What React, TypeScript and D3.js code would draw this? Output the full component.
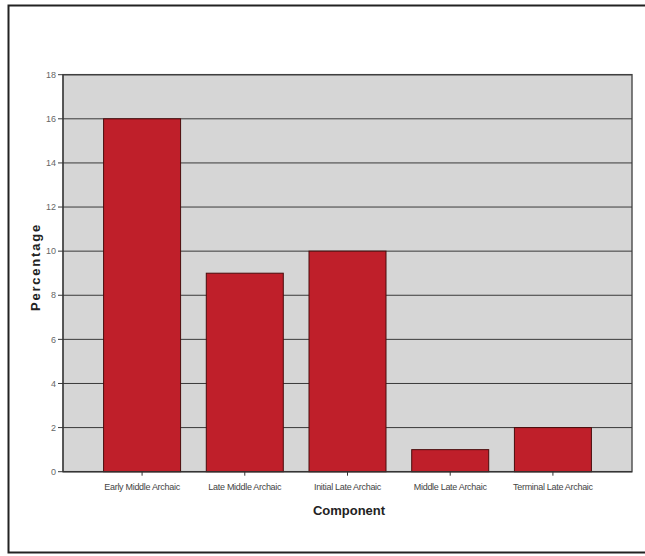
import React from "react";
import * as d3 from "d3";

const categories = ["Early Middle Archaic", "Late Middle Archaic", "Initial Late Archaic", "Middle Late Archaic", "Terminal Late Archaic"];
const values = [16, 9, 10, 1, 2];
const yTicks = [0, 2, 4, 6, 8, 10, 12, 14, 16, 18];

export default function App() {
  const W = 645, H = 556;
  const left = 63, right = 632, top = 74.7, bottom = 471.7;
  const x = d3.scalePoint<string>().domain(categories).range([left, right]).padding(0.77);
  const y = d3.scaleLinear().domain([0, 18]).range([bottom, top]);
  const bw = 77;
  const font = "Arial, Liberation Sans, sans-serif";
  return (
    <svg width={W} height={H} style={{ position: "absolute", left: 0, top: 0 }}>
      <rect x={0} y={0} width={W} height={H} fill="#fff" />
      <path d={`M${W},5.5 H8.5 V552.5 H${W}`} fill="none" stroke="#222" strokeWidth={2} />
      <rect x={left} y={top} width={right - left} height={bottom - top} fill="#d6d6d6" stroke="#555" strokeWidth={1.5} />
      {yTicks.map((t) => (
        <g key={t}>
          <line x1={left - 5} x2={right} y1={y(t)} y2={y(t)} stroke="#3a3a3a" strokeWidth={1} />
          <text x={left - 7} y={y(t)} dy="0.35em" textAnchor="end" fontFamily={font} fontSize={9} fill="#666">{t}</text>
        </g>
      ))}
      {categories.map((c, i) => (
        <rect key={c} x={(x(c) as number) - bw / 2} y={y(values[i])} width={bw} height={bottom - y(values[i])} fill="#bf1f2a" stroke="#4a0c0c" strokeWidth={1} />
      ))}
      <line x1={left} x2={left} y1={top} y2={bottom} stroke="#333" />
      <line x1={left} x2={right} y1={bottom} y2={bottom} stroke="#333" />
      {categories.map((c) => (
        <g key={c}>
          <line x1={x(c)} x2={x(c)} y1={bottom} y2={bottom + 4} stroke="#333" />
          <text x={x(c)} y={490} textAnchor="middle" fontFamily={font} fontSize={9} fill="#444" letterSpacing={-0.3}>{c}</text>
        </g>
      ))}
      <text x={349} y={515} textAnchor="middle" fontFamily={font} fontSize={13} fontWeight="bold" fill="#222">Component</text>
      <text transform={`translate(40,267) rotate(-90)`} textAnchor="middle" fontFamily={font} fontSize={13} fontWeight="bold" fill="#222" letterSpacing={1.8}>Percentage</text>
    </svg>
  );
}
